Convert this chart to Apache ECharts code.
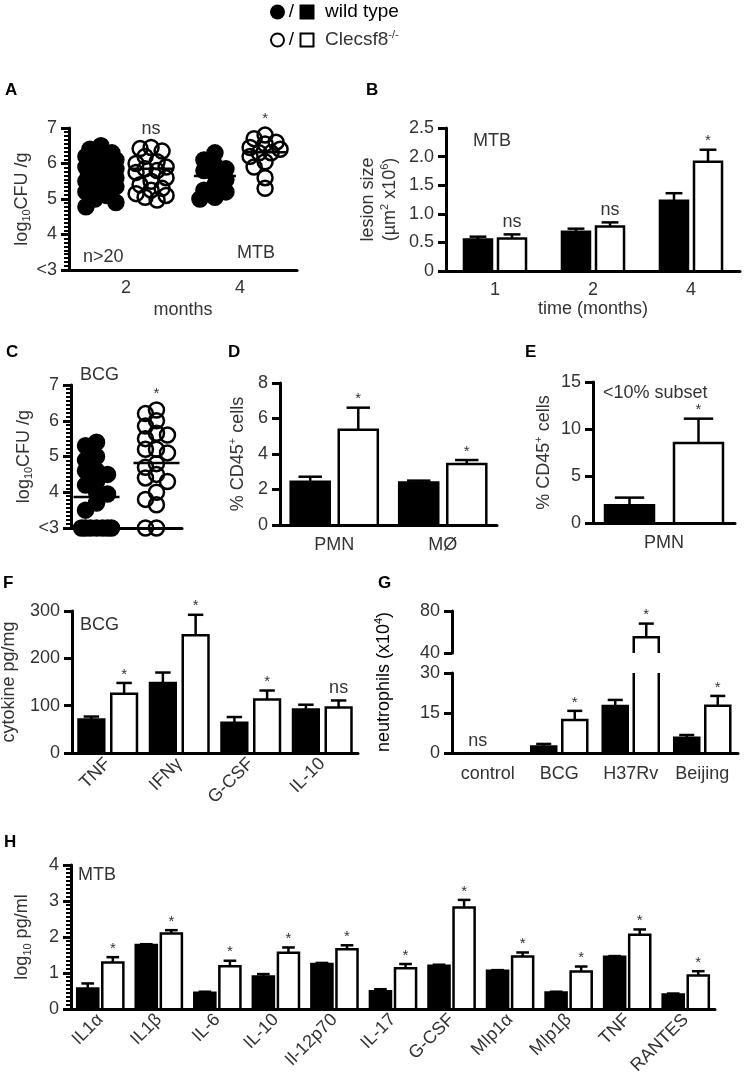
<!DOCTYPE html>
<html><head><meta charset="utf-8">
<script src="https://cdn.jsdelivr.net/npm/echarts@6.0.0/dist/echarts.min.js"></script>
<style>html,body{margin:0;padding:0;background:#fff}#c{width:745px;height:1082px}</style>
</head><body><div id="c"></div>
<script>
// ---------------- DATA ----------------
// Panel A: log10 CFU/g, MTB, months post infection
const aMonths = ['2', '4'];
const aWt2 = [6.5, 6.4, 6.3, 6.25, 6.2, 6.1, 6.0, 6.0, 5.9, 5.85, 5.8, 5.75, 5.7, 5.6, 5.55, 5.5, 5.4, 5.35, 5.3, 5.2, 5.1, 5.0, 4.9, 4.78];
const aKo2 = [6.45, 6.42, 6.35, 6.2, 6.05, 6.0, 5.9, 5.85, 5.8, 5.75, 5.6, 5.5, 5.4, 5.3, 5.25, 5.15, 5.1, 5.05, 4.97];
const aWt4 = [6.3, 6.1, 5.95, 5.85, 5.8, 5.7, 5.55, 5.4, 5.25, 5.2, 5.05, 5.0];
const aKo4 = [6.8, 6.7, 6.6, 6.55, 6.45, 6.4, 6.3, 6.3, 6.2, 6.05, 5.9, 5.6, 5.3];
const aWtMean = [5.7, 5.65];
const aKoMean = [5.85, 6.32];
const aSig = ['ns', '*'];

// Panel B: lesion size
const bMonths = ['1', '2', '4'];
const bWt = [0.55, 0.685, 1.23];
const bWtErr = [0.6, 0.74, 1.36];
const bKo = [0.57, 0.78, 1.91];
const bKoErr = [0.64, 0.85, 2.12];
const bSig = ['ns', 'ns', '*'];

// Panel C: BCG log10 CFU/g
const cGroup = [''];
const cWt = [5.4, 5.3, 5.0, 4.9, 4.6, 4.6, 4.5, 4.3, 4.2, 4.0, 3.95, 3.7, 3.5, 3, 3, 3, 3, 3, 3, 3];
const cKo = [6.3, 6.2, 6.0, 5.85, 5.65, 5.6, 5.5, 5.2, 5.2, 5.1, 4.8, 4.7, 4.5, 4.4, 4.3, 4.0, 3.8, 3.65, 3, 3];
const cWtMean = [3.87];
const cKoMean = [4.82];
const cSig = ['*'];

// Panel D: % CD45+ cells
const dCells = ['PMN', 'MØ'];
const dWt = [2.43, 2.4];
const dWtErr = [2.72, 2.5];
const dKo = [5.37, 3.44];
const dKoErr = [6.61, 3.66];
const dSig = ['*', '*'];

// Panel E: % CD45+ cells (<10% subset)
const eCells = ['PMN'];
const eWt = [1.9];
const eWtErr = [2.7];
const eKo = [8.5];
const eKoErr = [11.1];
const eSig = ['*'];

// Panel F: cytokines pg/mg, BCG
const fCyt = ['TNF', 'IFNγ', 'G-CSF', 'IL-10'];
const fWt = [71, 148, 64, 92];
const fWtErr = [77, 170, 76, 102];
const fKo = [125, 249, 113, 96];
const fKoErr = [148, 292, 132, 111];
const fSig = ['*', '*', '*', 'ns'];

// Panel G: neutrophils (x10^4)
const gStrain = ['control', 'BCG', 'H37Rv', 'Beijing'];
const gWt = [0, 2.4, 17.6, 5.75];
const gWtErr = [0, 3.4, 19.9, 6.75];
const gKo = [0, 12.4, 55, 17.75];
const gKoErr = [0, 15.8, 68, 21.4];
const gSig = ['ns', '*', '*', '*'];

// Panel H: log10 pg/ml, MTB
const hCyt = ['IL1α', 'IL1β', 'IL-6', 'IL-10', 'Il-12p70', 'IL-17', 'G-CSF', 'MIp1α', 'MIp1β', 'TNF', 'RANTES'];
const hWt = [0.57, 1.78, 0.45, 0.9, 1.25, 0.49, 1.2, 1.06, 0.46, 1.45, 0.4];
const hWtErr = [0.71, 1.8, 0.48, 0.97, 1.28, 0.55, 1.23, 1.08, 0.48, 1.47, 0.43];
const hKo = [1.29, 2.1, 1.19, 1.56, 1.66, 1.13, 2.82, 1.46, 1.04, 2.06, 0.93];
const hKoErr = [1.44, 2.19, 1.34, 1.71, 1.77, 1.25, 3.03, 1.57, 1.18, 2.21, 1.05];
const hSig = ['*', '*', '*', '*', '*', '*', '*', '*', '*', '*', '*'];

// ---------------- STYLE / HELPERS ----------------
const FF = '"Liberation Sans", Arial, Helvetica, sans-serif';
const TC = '#333';
const LW = 2.5;
const TICK_FS = 18;
const TXT_FS = 17;
const OFFS = [0, -6, 6, -11, 11, -15, 15];

const rich = {
  n: { fontSize: TXT_FS + 1, fontFamily: FF, color: TC, lineHeight: 22 },
  s: { fontSize: 11, fontFamily: FF, color: TC, lineHeight: 11, verticalAlign: 'bottom' },
  p: { fontSize: 11, fontFamily: FF, color: TC, lineHeight: 11, verticalAlign: 'top' }
};

function isObj(o) { return o && typeof o === 'object' && !Array.isArray(o); }
function merge(a, b) {
  const out = Object.assign({}, a);
  for (const k in (b || {})) out[k] = (isObj(a[k]) && isObj(b[k])) ? merge(a[k], b[k]) : b[k];
  return out;
}

function yAx(gi, min, max, interval, extra) {
  return merge({
    type: 'value', gridIndex: gi, min, max, interval, position: 'left',
    axisLine: { show: true, lineStyle: { color: '#000', width: 3 } },
    axisTick: { show: true, length: 8, lineStyle: { color: '#000', width: 3 } },
    axisLabel: { color: TC, fontSize: TICK_FS, fontFamily: FF, margin: 12 },
    splitLine: { show: false }
  }, extra);
}
// secondary axis carrying only the small minor ticks of the log-scale panels
function minorAx(gi, min, max) {
  return { type: 'value', gridIndex: gi, min, max, interval: 1 / 9, position: 'left', offset: 0,
    axisLine: { show: false }, axisLabel: { show: false }, splitLine: { show: false },
    axisTick: { show: true, length: 5, lineStyle: { color: '#000', width: 2 } } };
}
function yName(text, gap) {
  return { name: text, nameLocation: 'middle', nameGap: gap, nameRotate: 90,
    nameTextStyle: { color: TC, fontFamily: FF, fontSize: TXT_FS + 1, rich: rich } };
}
function xAx(gi, cats, extra) {
  return merge({
    type: 'category', gridIndex: gi, data: cats,
    axisLine: { show: true, onZero: false, lineStyle: { color: '#000', width: 3 } },
    axisTick: { show: false },
    axisLabel: { color: TC, fontSize: TICK_FS, fontFamily: FF, margin: 9, interval: 0 },
    splitLine: { show: false },
    nameTextStyle: { color: TC, fontFamily: FF, fontSize: TXT_FS + 1 }
  }, extra);
}

function swarmX(cx, ys, minD) {
  const placed = [], out = [];
  ys.forEach(y => {
    let bx = cx, bs = -1;
    for (const o of OFFS) {
      const x = cx + o;
      let md = Infinity;
      for (const q of placed) { const d = Math.hypot(q[0] - x, q[1] - y); if (d < md) md = d; }
      if (md >= minD) { bx = x; break; }
      if (md > bs) { bs = md; bx = x; }
    }
    placed.push([bx, y]); out.push(bx);
  });
  return out;
}

function dots(gi, ci, vals, filled, side, spread) {
  return {
    type: 'custom', xAxisIndex: gi, yAxisIndex: gi, clip: false, silent: true, z: filled ? 2 : 3,
    data: vals.map(v => [ci, v]), encode: { x: 0, y: 1 },
    renderItem(params, api) {
      const bw = api.size([1, 0])[0];
      const cx = api.coord([ci, vals[0]])[0] + side * spread * bw;
      const ys = vals.map(v => api.coord([ci, v])[1]);
      const xs = swarmX(cx, ys, 10);
      const i = params.dataIndex;
      return { type: 'circle', shape: { cx: xs[i], cy: ys[i], r: 7.5 },
        style: { fill: filled ? '#000' : 'rgba(0,0,0,0)', stroke: '#000', lineWidth: 2.5 } };
    }
  };
}

function meanLines(gi, means, side, spread, half, sig, clusters) {
  return {
    type: 'custom', xAxisIndex: gi, yAxisIndex: gi, clip: false, silent: true, z: 5,
    data: means.map((m, i) => [i, m]), encode: { x: 0, y: 1 },
    renderItem(params, api) {
      const i = params.dataIndex;
      const ci = api.value(0);
      const bw = api.size([1, 0])[0];
      const p = api.coord([ci, api.value(1)]);
      const cx = p[0] + side * spread * bw;
      const ch = [{ type: 'line', shape: { x1: cx - half, y1: p[1], x2: cx + half, y2: p[1] },
        style: { stroke: '#000', lineWidth: 2.5 } }];
      if (sig && sig[i]) {
        const top = Math.max.apply(null, clusters[i]);
        const ty = api.coord([ci, top])[1] - 9;
        ch.push({ type: 'text', style: { text: sig[i], x: cx, y: ty, align: 'center', verticalAlign: 'bottom',
          fill: TC, fontSize: sig[i] === '*' ? 15 : TXT_FS + 1, fontFamily: FF } });
      }
      return { type: 'group', children: ch };
    }
  };
}

function bars(gi, vals, errs, sig, filled, side, cfg, range) {
  const ymin = range[0], ymax = range[1];
  return {
    type: 'custom', xAxisIndex: gi, yAxisIndex: gi, clip: false, silent: true, z: 3,
    data: vals.map((v, i) => [i, v, errs[i]]), encode: { x: 0, y: 1 },
    renderItem(params, api) {
      const i = params.dataIndex, ci = api.value(0), v = api.value(1), e = api.value(2);
      const bw = api.size([1, 0])[0];
      const w = bw * cfg.ratio;
      const gc = api.coord([ci, ymin])[0];
      const cx = gc + side * (w / 2 + cfg.gap / 2);
      const x0 = cx - w / 2, x1 = cx + w / 2;
      const ch = [];
      const yb = api.coord([ci, Math.max(ymin, 0)])[1];
      if (v > ymin) {
        const yt = api.coord([ci, Math.min(v, ymax)])[1];
        if (filled) {
          ch.push({ type: 'rect', shape: { x: x0, y: yt, width: w, height: yb - yt },
            style: { fill: '#000', stroke: '#000', lineWidth: LW } });
        } else if (v <= ymax) {
          ch.push({ type: 'polyline', shape: { points: [[x0, yb], [x0, yt], [x1, yt], [x1, yb]] },
            style: { fill: null, stroke: '#000', lineWidth: LW } });
        } else {
          ch.push({ type: 'line', shape: { x1: x0, y1: yb, x2: x0, y2: yt }, style: { stroke: '#000', lineWidth: LW } });
          ch.push({ type: 'line', shape: { x1: x1, y1: yb, x2: x1, y2: yt }, style: { stroke: '#000', lineWidth: LW } });
        }
      }
      if (e > v && v < ymax && e > ymin) {
        const y1 = api.coord([ci, Math.max(v, ymin)])[1];
        const y2 = api.coord([ci, Math.min(e, ymax)])[1];
        ch.push({ type: 'line', shape: { x1: cx, y1: y1, x2: cx, y2: y2 }, style: { stroke: '#000', lineWidth: LW } });
        if (e <= ymax) ch.push({ type: 'line', shape: { x1: cx - w * 0.3, y1: y2, x2: cx + w * 0.3, y2: y2 },
          style: { stroke: '#000', lineWidth: LW } });
      }
      const top = Math.max(v, e);
      if (sig && sig[i] && top >= ymin && top <= ymax) {
        const both0 = (v === 0 && e === 0);
        const ax = both0 ? gc - 10 : cx;
        const ay = api.coord([ci, top])[1] - (sig[i] === '*' ? 1 : 3);
        ch.push({ type: 'text', style: { text: sig[i], x: ax, y: ay, align: 'center', verticalAlign: 'bottom',
          fill: TC, fontSize: sig[i] === '*' ? 15 : TXT_FS + 1, fontFamily: FF } });
      }
      return { type: 'group', children: ch };
    }
  };
}

function txt(x, y, s, opt) {
  return merge({ type: 'text', x: x, y: y, silent: true,
    style: { text: s, fill: TC, fontSize: TXT_FS + 1, fontFamily: FF, align: 'left', verticalAlign: 'middle' } }, opt);
}
function letter(x, y, s) {
  return { type: 'text', x: x, y: y, silent: true,
    style: { text: s, fill: '#000', fontSize: 17, fontWeight: 'bold', fontFamily: FF, align: 'left', verticalAlign: 'top' } };
}

// ---------------- CHART ----------------
const chart = echarts.init(document.getElementById('c'), null, { renderer: 'canvas' });
const G = (l, t, w, h) => ({ left: l, top: t, width: w, height: h, containLabel: false, outerBoundsMode: 'none' });
const lt3 = { axisLabel: { formatter: v => (v === 3 ? '<3' : String(v)) } };

const option = {
  animation: false,
  backgroundColor: '#fff',
  grid: [
    G(69, 128, 228, 142),   // A
    G(446, 128, 294, 143),  // B
    G(71, 385, 111, 143),   // C
    G(280, 383, 217, 142),  // D
    G(593, 382, 142, 141),  // E
    G(72, 611, 286, 142),   // F
    G(452, 673, 286, 80),   // G lower
    G(452, 611, 286, 42),   // G upper
    G(71, 865, 644, 144)    // H
  ],
  xAxis: [
    xAx(0, aMonths, { name: 'months', nameLocation: 'middle', nameGap: 31 }),
    xAx(1, bMonths, { name: 'time (months)', nameLocation: 'middle', nameGap: 24, axisLabel: { margin: 10 } }),
    xAx(2, cGroup, { axisLabel: { show: false } }),
    xAx(3, dCells, { axisLabel: { margin: 11 } }),
    xAx(4, eCells, { axisLabel: { margin: 11 } }),
    xAx(5, fCyt, { axisLabel: { rotate: 45, margin: 8 } }),
    xAx(6, gStrain, { axisLabel: { margin: 12 } }),
    xAx(7, gStrain, { show: false }),
    xAx(8, hCyt, { axisLabel: { rotate: 45, margin: 8 } })
  ],
  yAxis: [
    yAx(0, 3, 7, 1, merge(lt3, yName('{n|log}{s|10}{n|CFU /g}', 36))),
    yAx(1, 0, 2.5, 0.5, merge({ axisLabel: { formatter: v => (v === 0 ? '0' : v.toFixed(1)) } },
      yName('{n|lesion size}\n{n|(µm}{p|2}{n| x10}{p|6}{n|)}', 45))),
    yAx(2, 3, 7, 1, merge(lt3, yName('{n|log}{s|10}{n|CFU /g}', 35))),
    yAx(3, 0, 8, 2, yName('{n|% CD45}{p|+}{n| cells}', 31)),
    yAx(4, 0, 15, 5, yName('{n|% CD45}{p|+}{n| cells}', 38)),
    yAx(5, 0, 300, 100, yName('{n|cytokine pg/mg}', 52)),
    yAx(6, 0, 30, 15),
    yAx(7, 40, 80, 40),
    yAx(8, 0, 4, 1, yName('{n|log}{s|10}{n| pg/ml}', 38)),
    minorAx(0, 3, 7),
    minorAx(2, 3, 7),
    minorAx(8, 0, 4)
  ],
  series: [
    // A
    dots(0, 0, aWt2, true, -1, 0.22), dots(0, 0, aKo2, false, 1, 0.22),
    dots(0, 1, aWt4, true, -1, 0.22), dots(0, 1, aKo4, false, 1, 0.22),
    meanLines(0, aWtMean, -1, 0.22, 21, null, null),
    meanLines(0, aKoMean, 1, 0.22, 21, aSig, [aKo2, aKo4]),
    // B
    bars(1, bWt, bWtErr, null, true, -1, { ratio: 0.286, gap: 6 }, [0, 2.5]),
    bars(1, bKo, bKoErr, bSig, false, 1, { ratio: 0.286, gap: 6 }, [0, 2.5]),
    // C
    dots(2, 0, cWt, true, -1, 0.27), dots(2, 0, cKo, false, 1, 0.27),
    meanLines(2, cWtMean, -1, 0.27, 23, null, null),
    meanLines(2, cKoMean, 1, 0.27, 23, cSig, [cKo]),
    // D
    bars(3, dWt, dWtErr, null, true, -1, { ratio: 0.36, gap: 9 }, [0, 8]),
    bars(3, dKo, dKoErr, dSig, false, 1, { ratio: 0.36, gap: 9 }, [0, 8]),
    // E
    bars(4, eWt, eWtErr, null, true, -1, { ratio: 0.345, gap: 20 }, [0, 15]),
    bars(4, eKo, eKoErr, eSig, false, 1, { ratio: 0.345, gap: 20 }, [0, 15]),
    // F
    bars(5, fWt, fWtErr, null, true, -1, { ratio: 0.36, gap: 7 }, [0, 300]),
    bars(5, fKo, fKoErr, fSig, false, 1, { ratio: 0.36, gap: 7 }, [0, 300]),
    // G (broken axis: lower and upper segments)
    bars(6, gWt, gWtErr, null, true, -1, { ratio: 0.35, gap: 6 }, [0, 30]),
    bars(6, gKo, gKoErr, gSig, false, 1, { ratio: 0.35, gap: 6 }, [0, 30]),
    bars(7, gWt, gWtErr, null, true, -1, { ratio: 0.35, gap: 6 }, [40, 80]),
    bars(7, gKo, gKoErr, gSig, false, 1, { ratio: 0.35, gap: 6 }, [40, 80]),
    // H
    bars(8, hWt, hWtErr, null, true, -1, { ratio: 0.36, gap: 4 }, [0, 4]),
    bars(8, hKo, hKoErr, hSig, false, 1, { ratio: 0.36, gap: 4 }, [0, 4])
  ],
  graphic: [
    // legend
    { type: 'circle', silent: true, shape: { cx: 277.5, cy: 12, r: 7.5 }, style: { fill: '#000' } },
    txt(291.5, 12, '/', { style: { align: 'center', fill: '#000', fontSize: 19 } }),
    { type: 'rect', silent: true, shape: { x: 299.5, y: 4.5, width: 15, height: 15 }, style: { fill: '#000' } },
    txt(325, 12, 'wild type', { style: { fill: '#000', fontSize: 19 } }),
    { type: 'circle', silent: true, shape: { cx: 277.5, cy: 40, r: 6.5 }, style: { fill: '#fff', stroke: '#000', lineWidth: 2 } },
    txt(291.5, 40, '/', { style: { align: 'center', fill: '#000', fontSize: 19 } }),
    { type: 'rect', silent: true, shape: { x: 300.5, y: 33.5, width: 13, height: 13 }, style: { fill: '#fff', stroke: '#000', lineWidth: 2 } },
    txt(325, 40, '{t|Clecsf8}{u|-/-}', { style: { rich: {
      t: { fontSize: 19, fontFamily: FF, color: '#000', lineHeight: 22 },
      u: { fontSize: 11, fontFamily: FF, color: '#000', lineHeight: 11, verticalAlign: 'top' } } } }),
    // panel letters
    letter(5, 82, 'A'), letter(366, 82, 'B'), letter(6, 344, 'C'), letter(228, 344, 'D'),
    letter(525, 344, 'E'), letter(3, 575, 'F'), letter(378, 575, 'G'), letter(4, 834, 'H'),
    // in-panel texts
    txt(83, 257, 'n>20'), txt(237, 253, 'MTB'),
    txt(473, 141, 'MTB'),
    txt(80, 375, 'BCG'),
    txt(603, 393, '<10% subset'),
    txt(80, 625, 'BCG'),
    txt(78, 875, 'MTB'),
    // G y-axis title (spans the broken axis)
    { type: 'text', x: 384, y: 682, rotation: Math.PI / 2, silent: true,
      style: { text: '{n|neutrophils (x10}{p|4}{n|)}', rich: rich, align: 'center', verticalAlign: 'middle' } }
  ]
};
chart.setOption(option);
</script>
</body></html>
